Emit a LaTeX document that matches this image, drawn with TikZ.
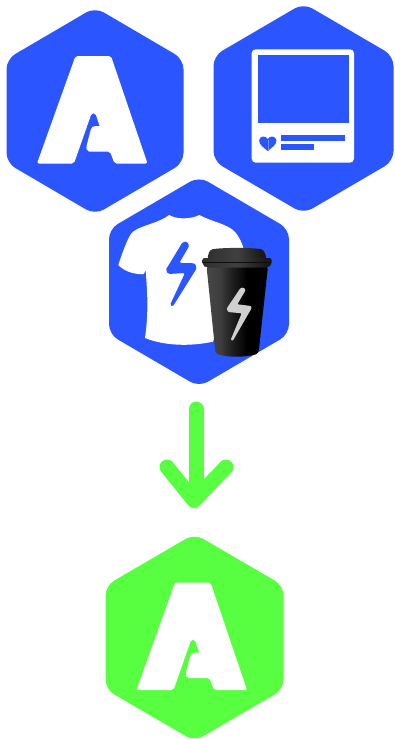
\documentclass[tikz,border=0pt]{standalone}
\usetikzlibrary{calc}
\definecolor{hexblue}{HTML}{2B55FF}
\definecolor{hexgreen}{HTML}{58FF41}
\definecolor{boltgrey}{HTML}{CFCFCF}
\pgfdeclarehorizontalshading{cupshade}{100bp}{
 color(0bp)=(black!92);color(12bp)=(black!84);color(25bp)=(black!72);color(36bp)=(black!76);
 color(46bp)=(black!88);color(58bp)=(black!100);color(82bp)=(black!100);color(92bp)=(black!84);color(100bp)=(black!90)}
\pgfdeclarehorizontalshading{lidshade}{100bp}{
 color(0bp)=(black!90);color(30bp)=(black!80);color(50bp)=(black!75);color(70bp)=(black!90);color(100bp)=(black!94)}
\tikzset{
 x=1pt,y=-1pt,
 hexshape/.style={fill=#1,rounded corners=10pt},
 cutout/.style={fill=white,rounded corners=2pt},
 bigarrow/.style={draw=hexgreen,line width=15pt,line cap=round,line join=round},
}
\newcommand{\hexat}[5]{% cx cy halfwidth halfheight colour
 \path[hexshape=#5] (#1,#2-#4) -- (#1+#3,#2-#4/2) -- (#1+#3,#2+#4/2) -- (#1,#2+#4)
   -- (#1-#3,#2+#4/2) -- (#1-#3,#2-#4/2) -- cycle;}
\newcommand{\letterA}[2]{% dx dy: outline measured on the first hexagon
 \begin{scope}[shift={(#1,#2)}]
 \path[cutout] (75.5,56) -- (111,56) -- (147.5,163.5) -- (114.5,163.5) -- (110,151.5)
   -- (91,151.5) [sharp corners] .. controls (87,151.5) and (85.8,148.5) .. (86.8,145)
   -- (90.8,129.5) .. controls (91.5,127) and (93,126.2) .. (95,126.2) -- (99.7,126.2)
   -- (96,115) .. controls (95,112.5) and (92,112.5) .. (91,115)
   [rounded corners=2pt] -- (74,163.5) -- (37,163.5) -- cycle;
 \end{scope}}
\begin{document}
\begin{tikzpicture}
\useasboundingbox (0,0) rectangle (394,739);
\fill[white] (0,0) rectangle (394,739);
% first hexagon
\hexat{95}{111}{88.5}{103.7}{hexblue}
\letterA{0}{0}
% second hexagon
\hexat{303.5}{108.5}{90}{105.2}{hexblue}
\path[cutout,rounded corners=4pt] (251.7,49.3) rectangle (354,162.7);
\fill[hexblue] (258,55) rectangle (349,123);
\fill[hexblue] (281,135) rectangle (345,141);
\fill[hexblue] (281,144) rectangle (314,150);
\fill[hexblue] (267.7,151) .. controls (263,147) and (259,144.5) .. (259.2,140.5)
  .. controls (259.4,136) and (265.5,135) .. (267.7,139)
  .. controls (270,135) and (276.2,136) .. (276.4,140.5)
  .. controls (276.5,144.5) and (272.5,147) .. (267.7,151) -- cycle;
\draw[white!35!hexblue,line width=.25pt] (267.7,139.5) -- (267.7,150.5);
% third hexagon
\hexat{199}{281.7}{90}{105.2}{hexblue}
% shirt
\fill[white] (169,215) .. controls (177,219.5) and (190,219.5) .. (199.5,215)
  .. controls (212,222) and (228,224) .. (235,232) .. controls (240,238) and (242,243) .. (244,250)
  -- (213,341.7) .. controls (190,346.5) and (165,346) .. (145,338)
  .. controls (149,310) and (147,290) .. (145.7,270)
  .. controls (145,272) and (144,274) .. (143,274.3)
  .. controls (134,274) and (125,272) .. (118.3,265)
  .. controls (123,251) and (127,240) .. (131,234) .. controls (136,226) and (158,224) .. (169,215) -- cycle;
% shirt bolt
\fill[hexblue,rounded corners=1.5pt] (182.7,242) -- (187,241.5) -- (189.3,245.7) -- (179.3,263) -- (195,263.3)
  -- (196.7,268.3) -- (172.7,306.7) -- (170,305) -- (185,273) -- (168.3,274) -- (165.7,270) -- cycle;
% cup body
\shade[shading=cupshade,rounded corners=3pt] (206.5,266) -- (268,266) -- (258.5,353.5)
  .. controls (245,357.5) and (228,357.5) .. (215.5,353.5) -- cycle;
% cup lid
\shade[shading=lidshade,rounded corners=3pt] (207,259) -- (210,249.5) .. controls (225,247.5) and (250,247.5) .. (263.5,249.5)
  -- (267,259) -- cycle;
\shade[shading=lidshade,rounded corners=2pt] (202.5,258) -- (271.5,258) -- (271.5,265) -- (268,267.5) -- (206,267.5) -- (202.5,265) -- cycle;
\draw[black!95,line width=.5pt] (203,262) -- (271,262);
% cup bolt
\fill[boltgrey,rounded corners=1pt] (240.5,288) -- (243.5,287.5) -- (245.7,290) -- (237.3,304.3) -- (251.2,306)
  -- (251.7,308) -- (232.7,341) -- (230.7,339.8) -- (241.7,313.3) -- (228,312) -- (226.7,308.5) -- cycle;
% arrow
\coordinate (arrowtop) at (196,409);
\coordinate (arrowtip) at (194,500.5);
\coordinate (armleft) at (167,467);
\coordinate (armright) at (226,467);
\draw[bigarrow] (arrowtop) -- (196,485);
\draw[bigarrow] (armleft) -- (arrowtip) -- (armright);
% green hexagon
\hexat{194.5}{637.5}{89}{103.7}{hexgreen}
\letterA{99.5}{526.5}
\end{tikzpicture}
\end{document}
